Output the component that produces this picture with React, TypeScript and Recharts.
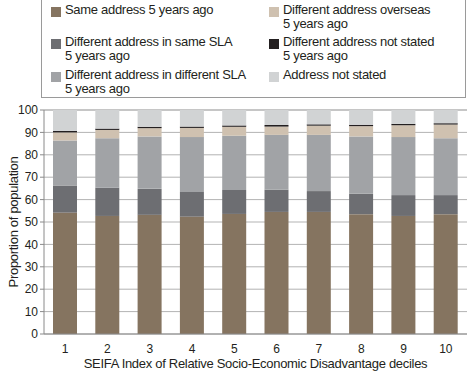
import { BarChart, Bar, XAxis, YAxis, CartesianGrid, Label } from 'recharts';

const DECILES = ['1', '2', '3', '4', '5', '6', '7', '8', '9', '10'];

const SAME_ADDRESS = [54.2, 52.7, 53.2, 52.4, 53.6, 54.5, 54.5, 53.5, 52.7, 53.5];
const SAME_SLA = [12.1, 12.6, 11.6, 11.0, 10.7, 9.9, 9.3, 9.1, 9.3, 8.5];
const DIFFERENT_SLA = [20.1, 22.1, 23.4, 24.5, 24.2, 24.5, 25.1, 25.6, 25.9, 25.4];
const OVERSEAS = [3.6, 3.7, 3.7, 4.1, 4.0, 3.7, 4.1, 4.6, 5.3, 6.1];
const DIFF_NOT_STATED = [0.7, 0.6, 0.6, 0.6, 0.6, 0.7, 0.6, 0.6, 0.6, 0.6];
const ADDRESS_NOT_STATED = [9.3, 8.3, 7.5, 7.4, 6.9, 6.7, 6.4, 6.6, 6.2, 5.9];

const Y_TICKS = [0, 10, 20, 30, 40, 50, 60, 70, 80, 90, 100];

const FONT = '"Liberation Sans", Arial, sans-serif';
const TEXT = '#231f20';

type SeriesDef = { key: string; lines: string[]; color: string };

const SERIES: SeriesDef[] = [
  { key: 'same', lines: ['Same address 5 years ago'], color: '#857460' },
  { key: 'sameSla', lines: ['Different address in same SLA', '5 years ago'], color: '#6d6e72' },
  { key: 'diffSla', lines: ['Different address in different SLA', '5 years ago'], color: '#a1a3a6' },
  { key: 'overseas', lines: ['Different address overseas', '5 years ago'], color: '#cfc1b0' },
  { key: 'diffNs', lines: ['Different address not stated', '5 years ago'], color: '#231f20' },
  { key: 'addrNs', lines: ['Address not stated'], color: '#d1d3d4' },
];

const data = DECILES.map((d, i) => ({
  decile: d,
  same: SAME_ADDRESS[i],
  sameSla: SAME_SLA[i],
  diffSla: DIFFERENT_SLA[i],
  overseas: OVERSEAS[i],
  diffNs: DIFF_NOT_STATED[i],
  addrNs: ADDRESS_NOT_STATED[i],
}));

// legend: left column first three series, right column the rest
const LEFT = SERIES.slice(0, 3);
const RIGHT = SERIES.slice(3);

function LegendItem({ s }: { s: SeriesDef }) {
  return (
    <div style={{ display: 'flex', alignItems: 'flex-start', height: 33 }}>
      <div style={{ width: 10, height: 10, background: s.color, marginTop: 5, marginRight: 4, flexShrink: 0 }} />
      <div style={{ lineHeight: '14px', paddingTop: 1, whiteSpace: 'nowrap' }}>
        {s.lines.map((l) => <div key={l}>{l}</div>)}
      </div>
    </div>
  );
}

export default function App() {
  const tick = { fontSize: 12, fill: TEXT, fontFamily: FONT };
  return (
    <div style={{ position: 'absolute', left: 0, top: 0, width: 468, height: 372, background: '#fff', fontFamily: FONT }}>
      <div
        style={{
          position: 'absolute', left: 41, top: -2, width: 425, height: 100,
          border: '1px solid #9a9a9a', boxSizing: 'border-box',
          fontSize: 13, letterSpacing: -0.3, color: TEXT,
        }}
      >
        <div style={{ position: 'absolute', left: 9, top: 3 }}>
          {LEFT.map((s, i) => (
            <div key={s.key} style={{ height: i === 0 ? 32 : 33 }}><LegendItem s={s} /></div>
          ))}
        </div>
        <div style={{ position: 'absolute', left: 227, top: 3 }}>
          {RIGHT.map((s, i) => (
            <div key={s.key} style={{ height: i === 0 ? 32 : 33 }}><LegendItem s={s} /></div>
          ))}
        </div>
      </div>
      <div style={{ position: 'absolute', left: 0, top: 0 }}>
        <BarChart
          width={468}
          height={372}
          data={data}
          margin={{ top: 110, right: 1, left: 0, bottom: 0 }}
          barSize={24}
        >
          <CartesianGrid vertical={false} stroke="#b3b3b3" />
          <XAxis
            dataKey="decile"
            tickLine={false}
            axisLine={{ stroke: '#8a8a8a' }}
            height={38}
            tick={tick}
            tickMargin={4}
          >
            <Label
              value="SEIFA Index of Relative Socio-Economic Disadvantage deciles"
              position="insideBottom"
              offset={4}
              style={{ fontSize: 13, fill: TEXT, fontFamily: FONT, letterSpacing: -0.3 }}
            />
          </XAxis>
          <YAxis
            width={44}
            domain={[0, 100]}
            ticks={Y_TICKS}
            interval={0}
            tickSize={4}
            tickLine={{ stroke: '#8a8a8a' }}
            axisLine={{ stroke: '#8a8a8a' }}
            tick={tick}
          >
            <Label
              value="Proportion of population"
              angle={-90}
              position="insideLeft"
              offset={13}
              style={{ fontSize: 13, fill: TEXT, fontFamily: FONT, textAnchor: 'middle', letterSpacing: -0.3 }}
            />
          </YAxis>
          {SERIES.map((s) => (
            <Bar key={s.key} dataKey={s.key} stackId="a" fill={s.color} isAnimationActive={false} />
          ))}
        </BarChart>
      </div>
    </div>
  );
}
